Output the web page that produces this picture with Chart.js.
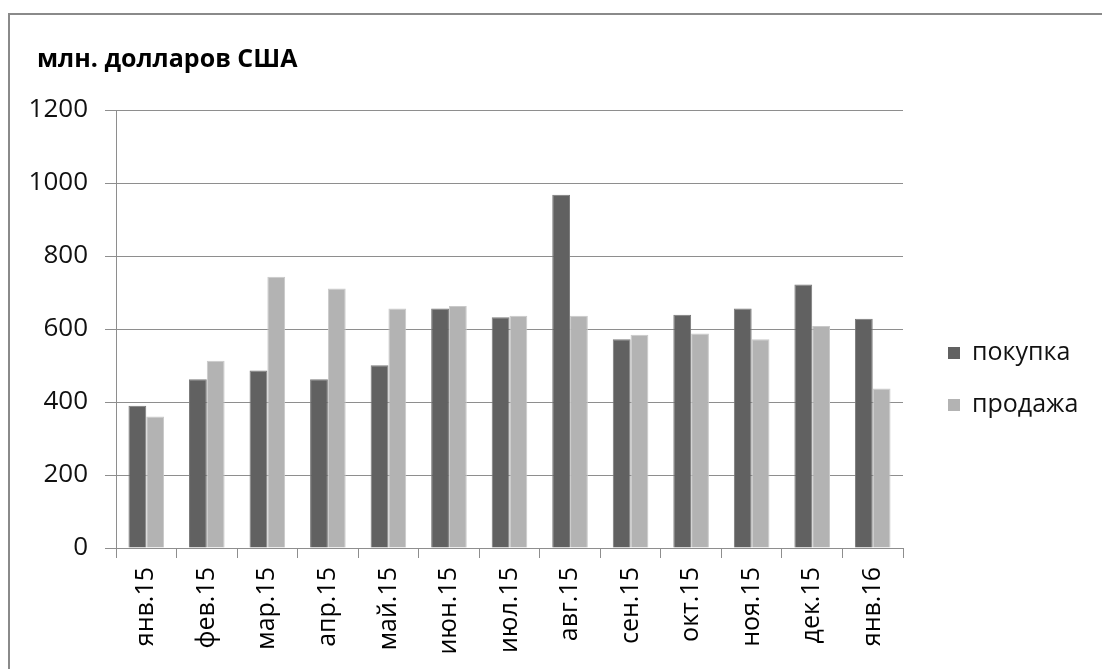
<!DOCTYPE html>
<html>
<head>
<meta charset="utf-8">
<script src="https://cdn.jsdelivr.net/npm/chart.js@4/dist/chart.umd.min.js"></script>
<style>
  html, body { margin: 0; padding: 0; background: #ffffff; overflow: hidden; }
  #frame { position: absolute; left: 8px; top: 13px; width: 1200px; height: 800px;
           border-left: 2px solid #8a8a8a; border-top: 2px solid #8a8a8a; }
  #c { position: absolute; left: 0; top: 0; }
</style>
</head>
<body>
<div id="frame"></div>
<canvas id="c" width="1102" height="669"></canvas>
<script>
const titleText = 'млн. долларов США';
const categories = ['янв.15','фев.15','мар.15','апр.15','май.15','июн.15','июл.15','авг.15','сен.15','окт.15','ноя.15','дек.15','янв.16'];
const seriesNames = ['покупка', 'продажа'];
const purchase = [390, 462, 486, 462, 501, 656, 632, 968, 572, 639, 656, 722, 628];
const sale     = [360, 513, 743, 711, 656, 663, 636, 636, 584, 588, 572, 608, 437];
const yTicks = [0, 200, 400, 600, 800, 1000, 1200];

const FONT = "'Open Sans', 'Noto Sans', sans-serif";
const gridColor = '#8e8e8e';

const titlePlugin = {
  id: 'titleText',
  afterDraw(chart) {
    const ctx = chart.ctx;
    ctx.save();
    ctx.font = 'bold 25px ' + FONT;
    ctx.fillStyle = '#000000';
    ctx.textBaseline = 'middle';
    ctx.textAlign = 'left';
    ctx.fillText(titleText, 37, 60);
    ctx.restore();
  }
};

const legendPlugin = {
  id: 'sideLegend',
  afterDraw(chart) {
    const ctx = chart.ctx;
    ctx.save();
    ctx.font = '25px ' + FONT;
    ctx.textBaseline = 'middle';
    ctx.textAlign = 'left';
    chart.data.datasets.forEach((ds, i) => {
      const cy = 353 + i * 52;
      ctx.fillStyle = ds.backgroundColor;
      ctx.fillRect(948, cy - 6, 12, 12);
      ctx.fillStyle = '#111111';
      ctx.fillText(ds.label, 972, cy);
    });
    ctx.restore();
  }
};

new Chart(document.getElementById('c'), {
  type: 'bar',
  data: {
    labels: categories,
    datasets: [
      { label: seriesNames[0], data: purchase, backgroundColor: '#616161', borderColor: '#7a7a7a', borderWidth: 1 },
      { label: seriesNames[1], data: sale, backgroundColor: '#b3b3b3', borderColor: '#c9c9c9', borderWidth: 1 }
    ]
  },
  options: {
    responsive: false,
    devicePixelRatio: 1,
    animation: false,
    layout: { padding: { top: 110, left: 0, right: 199, bottom: 0 } },
    datasets: { bar: { categoryPercentage: 0.588, barPercentage: 1.0 } },
    plugins: {
      legend: { display: false },
      tooltip: { enabled: false },
      title: { display: false }
    },
    scales: {
      x: {
        offset: true,
        grid: { display: true, drawOnChartArea: false, drawTicks: true, tickLength: 10, color: gridColor, offset: true },
        border: { display: true, color: gridColor, width: 1 },
        ticks: { color: '#000000', font: { family: FONT, size: 25 }, minRotation: 90, maxRotation: 90, padding: 9, autoSkip: false },
        afterFit(scale) { scale.height = 121; }
      },
      y: {
        min: 0, max: 1200,
        afterBuildTicks(scale) { scale.ticks = yTicks.map(v => ({ value: v })); },
        grid: { color: gridColor, drawTicks: true, tickLength: 11 },
        border: { display: true, color: gridColor, width: 1 },
        ticks: { color: '#111111', font: { family: FONT, size: 26 }, padding: 17, callback: (v) => String(v) },
        afterFit(scale) { scale.width = 116; }
      }
    }
  },
  plugins: [titlePlugin, legendPlugin]
});
</script>
</body>
</html>
